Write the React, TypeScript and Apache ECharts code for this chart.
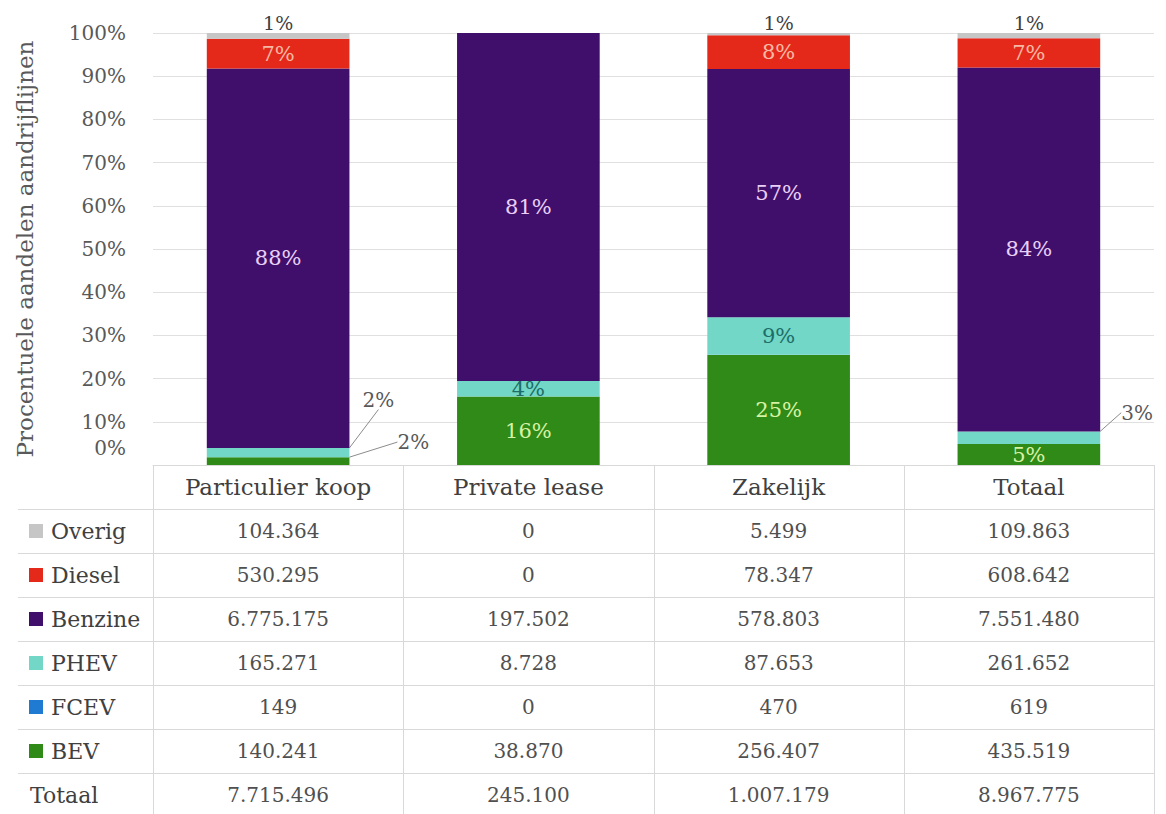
import React, { useEffect, useRef } from 'react';
import * as echarts from 'echarts';

const categories = ['Particulier koop', 'Private lease', 'Zakelijk', 'Totaal'];
const fuelTypes = ['Overig', 'Diesel', 'Benzine', 'PHEV', 'FCEV', 'BEV'];
const overig = [104364, 0, 5499, 109863];
const diesel = [530295, 0, 78347, 608642];
const benzine = [6775175, 197502, 578803, 7551480];
const phev = [165271, 8728, 87653, 261652];
const fcev = [149, 0, 470, 619];
const bev = [140241, 38870, 256407, 435519];
const totals = [7715496, 245100, 1007179, 8967775];
const yAxisTitle = 'Procentuele aandelen aandrijflijnen';
const totalRowLabel = 'Totaal';

const FONT = 'DejaVu Serif';
const W = 1166;
const H = 814;
const GRID_LEFT = 153;
const GRID_RIGHT = 12;
const GRID_TOP = 33;
const GRID_BOTTOM = 349;

const seriesColors: Record<string, string> = {
  Overig: '#c6c6c6',
  Diesel: '#e4291b',
  Benzine: '#3f0f6b',
  PHEV: '#72d7c7',
  FCEV: '#1f7ad1',
  BEV: '#2f8a17',
};
const labelColors: Record<string, string> = {
  Overig: '#404040',
  Diesel: '#f8b9a4',
  Benzine: '#ead0f6',
  PHEV: '#1d6e69',
  FCEV: '#ffffff',
  BEV: '#d6f2a4',
};

const seriesValues: Record<string, number[]> = {
  Overig: overig,
  Diesel: diesel,
  Benzine: benzine,
  PHEV: phev,
  FCEV: fcev,
  BEV: bev,
};

const fmtNum = (n: number) => String(n).replace(/\B(?=(\d{3})+(?!\d))/g, '.');
const pctFmt = (p: any) => Math.round(p.value) + '%';

// labels placed outside the bar with leader lines: series -> dataIndex list
const outsideLabels: Record<string, number[]> = {
  PHEV: [0, 3],
  BEV: [0],
};

function buildSeries() {
  const order = ['BEV', 'FCEV', 'PHEV', 'Benzine', 'Diesel', 'Overig'];
  return order.map((name) => {
    const vals = seriesValues[name];
    const outs = outsideLabels[name] || [];
    const data = vals.map((v, i) => {
      const share = (v / totals[i]) * 100;
      const item: any = { value: share };
      if (v === 0 || name === 'FCEV') {
        item.label = { show: false };
      } else if (outs.includes(i)) {
        item.label = { show: true, color: '#595959', position: 'inside', fontSize: 20 };
        item.labelLine = { show: true, lineStyle: { color: '#8c8c8c', width: 1 } };
      }
      return item;
    });
    const s: any = {
      name,
      type: 'bar',
      stack: 'total',
      barWidth: '57%',
      itemStyle: { color: seriesColors[name] },
      data,
      label: {
        show: name !== 'FCEV',
        position: name === 'Overig' ? 'top' : 'inside',
        distance: 1,
        formatter: pctFmt,
        color: labelColors[name],
        fontFamily: FONT,
        fontSize: name === 'Overig' ? 19 : 21,
      },
    };
    if (outs.length) {
      s.labelLayout = (p: any) => {
        if (!outs.includes(p.dataIndex)) return {};
        const rx = p.rect.x + p.rect.width;
        const ry = p.rect.y + p.rect.height / 2;
        if (name === 'PHEV' && p.dataIndex === 0) {
          return {
            x: rx + 29,
            y: ry - 53,
            align: 'center',
            verticalAlign: 'middle',
            labelLinePoints: [[rx + 1, ry], [rx + 26, ry - 29], [rx + 56, ry - 29]],
          };
        }
        if (name === 'BEV' && p.dataIndex === 0) {
          return {
            x: rx + 48,
            y: ry - 19,
            align: 'left',
            verticalAlign: 'middle',
            labelLinePoints: [[rx + 2, ry - 2], [rx + 28, ry - 19], [rx + 43, ry - 19]],
          };
        }
        return {
          x: rx + 21,
          y: ry - 25,
          align: 'left',
          verticalAlign: 'middle',
          labelLinePoints: [[rx + 2, ry - 4], [rx + 7, ry - 25], [rx + 18, ry - 25]],
        };
      };
    }
    return s;
  });
}

function buildTable() {
  const els: any[] = [];
  const colW = (W - GRID_LEFT - GRID_RIGHT) / categories.length;
  const plotBottom = H - GRID_BOTTOM;
  const rowH = 44;
  const firstRowY = 531;
  const lineColor = '#d9d9d9';
  for (let k = 0; k <= categories.length; k++) {
    const x = Math.round(GRID_LEFT + k * colW) + 0.5;
    els.push({ type: 'line', shape: { x1: x, y1: plotBottom, x2: x, y2: H }, style: { stroke: lineColor, lineWidth: 1 }, silent: true });
  }
  const rowLabels = [...fuelTypes, totalRowLabel];
  const rowValues = [overig, diesel, benzine, phev, fcev, bev, totals];
  for (let r = 0; r < rowLabels.length; r++) {
    const y = firstRowY - rowH / 2 + r * rowH + 0.5;
    els.push({ type: 'line', shape: { x1: 18, y1: y, x2: W - GRID_RIGHT, y2: y }, style: { stroke: lineColor, lineWidth: 1 }, silent: true });
  }
  rowLabels.forEach((lab, r) => {
    const y = firstRowY + r * rowH;
    if (r < fuelTypes.length) {
      els.push({ type: 'rect', shape: { x: 29, y: y - 7, width: 14, height: 14 }, style: { fill: seriesColors[lab] }, silent: true });
    }
    els.push({
      type: 'text',
      x: r < fuelTypes.length ? 51 : 30,
      y,
      style: { text: lab, font: `22px "${FONT}"`, fill: '#404040', textAlign: 'left', textVerticalAlign: 'middle' },
      silent: true,
    });
    rowValues[r].forEach((v, i) => {
      els.push({
        type: 'text',
        x: GRID_LEFT + (i + 0.5) * colW,
        y,
        style: { text: fmtNum(v), font: `20px "${FONT}"`, fill: '#505050', textAlign: 'center', textVerticalAlign: 'middle' },
        silent: true,
      });
    });
  });
  return els;
}

export default function App() {
  const ref = useRef<HTMLDivElement>(null);
  useEffect(() => {
    if (!ref.current) return;
    const chart = echarts.init(ref.current, null, { renderer: 'svg' });
    chart.setOption({
      animation: false,
      backgroundColor: '#ffffff',
      grid: { left: GRID_LEFT, right: GRID_RIGHT, top: GRID_TOP, bottom: GRID_BOTTOM, containLabel: false },
      xAxis: {
        type: 'category',
        data: categories,
        axisTick: { show: false },
        axisLine: { show: true, lineStyle: { color: '#d9d9d9' } },
        axisLabel: { fontFamily: FONT, fontSize: 23, color: '#404040', margin: 10 },
      },
      yAxis: {
        type: 'value',
        min: 0,
        max: 100,
        interval: 10,
        name: yAxisTitle,
        nameLocation: 'middle',
        nameGap: 117,
        nameTextStyle: { fontFamily: FONT, fontSize: 23, color: '#595959' },
        axisLine: { show: false },
        axisTick: { show: false },
        splitLine: { lineStyle: { color: '#e0e0e0' } },
        axisLabel: {
          fontFamily: FONT,
          fontSize: 20,
          color: '#595959',
          margin: 27,
          formatter: (v: number) => (v === 0 ? '{z|0%}' : v + '%'),
          rich: { z: { fontFamily: FONT, fontSize: 20, color: '#595959', padding: [0, 0, 34, 0] } },
        },
      },
      series: buildSeries(),
      graphic: buildTable(),
    });
    return () => chart.dispose();
  }, []);
  return <div ref={ref} style={{ position: 'fixed', left: 0, top: 0, width: W, height: H, background: '#fff' }} />;
}
